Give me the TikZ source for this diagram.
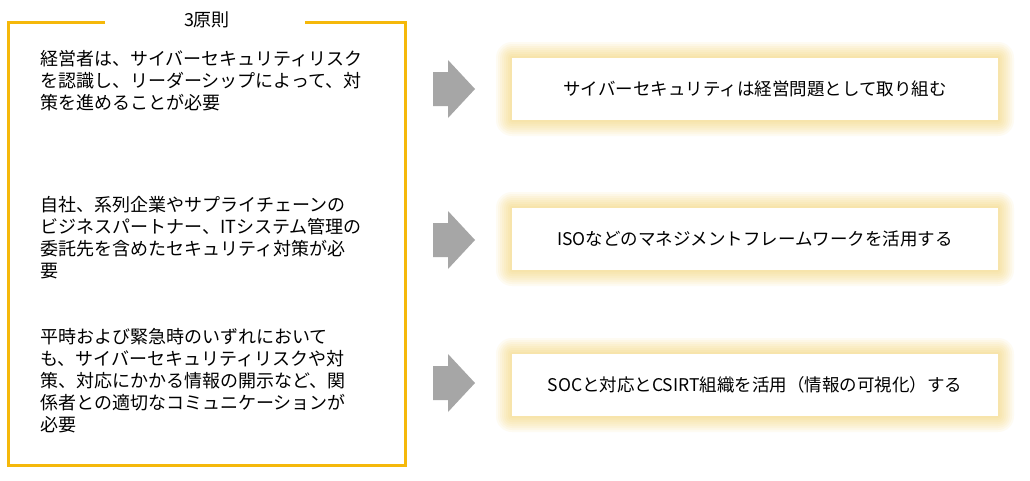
\documentclass[tikz,border=0pt]{standalone}
\usepackage{fontspec}
\setmainfont{Noto Sans CJK JP}
\begin{document}
\begin{tikzpicture}[x=1pt,y=-1pt,
  frame/.style={draw=orangeY,line width=3pt},
  lefttext/.style={anchor=north west,align=left,inner sep=0pt,font=\fontsize{18}{22}\selectfont},
  rbox/.style={fill=white,minimum width=486pt,minimum height=62pt,inner sep=0pt,font=\fontsize{17.5}{20}\selectfont},
  garrow/.style={fill=arrowgray,draw=none}]
\definecolor{orangeY}{HTML}{F5B80A}
\definecolor{glow}{HTML}{F7C94A}
\definecolor{arrowgray}{HTML}{A6A6A6}
\useasboundingbox (0,0) rectangle (1030,480);
\fill[white] (0,0) rectangle (1030,480);
% frame
\draw[frame] (105,22) -- (8,22) -- (8,465) -- (405,465) -- (405,22) -- (305,22);
\node[font=\fontsize{18}{20}\selectfont] (title) at (207,20) {3原則};
\node[lefttext] (l1) at (40,50) {経営者は、サイバーセキュリティリスク\\を認識し、リーダーシップによって、対\\策を進めることが必要};
\node[lefttext] (l2) at (40,196) {自社、系列企業やサプライチェーンの\\ビジネスパートナー、ITシステム管理の\\委託先を含めたセキュリティ対策が必\\要};
\node[lefttext] (l3) at (40,328) {平時および緊急時のいずれにおいて\\も、サイバーセキュリティリスクや対\\策、対応にかかる情報の開示など、関\\係者との適切なコミュニケーションが\\必要};
% arrows
\foreach \cy/\n in {89/a1,240/a2,383/a3}{
  \fill[garrow] (433,\cy-17) -- (448,\cy-17) -- (448,\cy-29) -- (475,\cy) -- (448,\cy+29) -- (448,\cy+17) -- (433,\cy+17) -- cycle;
}
% glowing boxes
\foreach \cy in {89,239,385}{
  \foreach \g in {16,14,12,10,8,6,4,2}{
    \fill[glow,opacity=0.07,rounded corners=\g] (512-\g,\cy-31-\g) rectangle (998+\g,\cy+31+\g);
  }
}
\node[rbox] (r1) at (755,89) {サイバーセキュリティは経営問題として取り組む};
\node[rbox] (r2) at (755,239) {ISOなどのマネジメントフレームワークを活用する};
\node[rbox] (r3) at (755,385) {SOCと対応とCSIRT組織を活用（情報の可視化）する};
\end{tikzpicture}
\end{document}
